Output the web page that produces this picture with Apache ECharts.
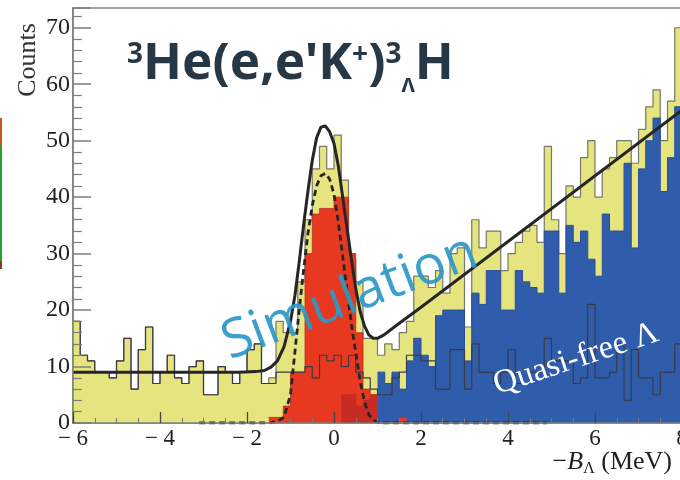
<!DOCTYPE html>
<html><head><meta charset="utf-8">
<script src="https://cdn.jsdelivr.net/npm/echarts@6/dist/echarts.min.js"></script>
<style>html,body{margin:0;padding:0;background:#fff}#c{width:680px;height:480px}</style>
</head><body><div id="c"></div>
<script>
// ---- data ----
const binLow = -6;          // lower edge of first bin (MeV)
const binWidth = 1 / 6;     // bin width (MeV)

// total spectrum (yellow), 84 bins from -6 to 8 MeV
const totalCounts = [
  18, 12, 11, 9, 9, 8, 11, 15, 6, 13,
  17, 7, 9, 12, 8, 7, 10, 11, 5, 5,
  10, 9, 7, 9, 13, 14, 7, 8, 18, 16,
  16, 25, 36, 45, 49, 45, 51, 43, 29, 25,
  15, 15, 12, 14, 13, 16, 18, 26, 26, 24,
  27, 23, 30, 31, 17, 36, 31, 34, 34, 27,
  30, 32, 34, 35, 32, 49, 36, 30, 42, 40,
  47, 50, 40, 45, 47, 50, 50, 46, 52, 56,
  59, 50, 57, 70
];
// accidental background (open dark histogram), 84 bins
const accidentalCounts = [
  18, 12, 11, 9, 9, 8, 11, 15, 6, 13,
  17, 7, 9, 12, 8, 7, 10, 11, 5, 5,
  10, 9, 7, 9, 13, 14, 7, 7, 9, 9,
  9, 9, 10, 8, 12, 11, 12, 10, 12, 9,
  8, 6, 5, 5, 8, 9, 12, 12, 11, 11,
  6, 6, 13, 13, 6, 14, 9, 9, 7, 9,
  13, 7, 7, 9, 9, 15, 11, 11, 11, 7,
  8, 21, 8, 8, 9, 14, 4, 13, 8, 8,
  5, 9, 9, 14
];
// quasi-free Lambda (blue), starting at bin 42
const quasiFreeStart = 42;
const quasiFreeCounts = [
  9, 7, 9, 6, 11, 15, 12, 10, 19, 20,
  20, 20, 11, 23, 21, 27, 27, 20, 20, 27,
  25, 24, 23, 34, 34, 23, 35, 32, 34, 29,
  26, 37, 34, 34, 46, 31, 45, 50, 54, 41,
  47, 56
];
// hypertriton peak (red), starting at bin 27
const peakStart = 27;
const peakCounts = [1, 1, 3, 9, 9, 30, 37, 38, 38, 40, 40, 30, 16, 6, 5, 0, 0, 0, 1];
// darker red component, starting at bin 37
const peakDarkStart = 37;
const peakDarkCounts = [5, 5, 3, 4, 5];

// fit curves [x (MeV), counts]
const fitTotal = [
  [-6, 9], [-4, 9], [-2.2, 9], [-1.8, 9.1], [-1.6, 9.3], [-1.45, 9.9], [-1.3, 11], [-1.15, 13.5],
  [-1.0, 18], [-0.9, 22.5], [-0.8, 28.5], [-0.7, 35], [-0.6, 41], [-0.5, 46.5], [-0.4, 50.5],
  [-0.3, 52.4], [-0.2, 52.6], [-0.1, 51.6], [0, 49.5], [0.1, 45.5], [0.2, 40], [0.3, 34.5],
  [0.4, 29], [0.5, 23.8], [0.6, 19.8], [0.7, 17.2], [0.8, 15.6], [0.9, 15], [1.0, 15],
  [1.15, 15.6], [1.4, 17.1], [2, 20.5], [8, 55.4]
];
const fitPeak = [
  [-3.1, 0], [-1.5, 0], [-1.3, 0.3], [-1.15, 1], [-1.0, 5], [-0.9, 12.5], [-0.8, 20], [-0.7, 27],
  [-0.6, 33.5], [-0.5, 38.5], [-0.4, 42], [-0.3, 43.8], [-0.2, 44.2], [-0.1, 43.2], [0, 40.5],
  [0.1, 35.5], [0.2, 29.5], [0.3, 23.5], [0.4, 17.5], [0.5, 12.5], [0.6, 7.5], [0.7, 3.8],
  [0.8, 1.5], [0.9, 0.5], [1.05, 0], [4.9, 0]
];

// axes
const xMin = -6, xMax = 8, xStep = 2;
const yMin = 0, yMax = 73.5, yStep = 10;

// ---- build ----
function hist(start, counts) {
  const d = counts.map((v, i) => [binLow + (start + i) * binWidth, v]);
  d.push([binLow + (start + counts.length) * binWidth, counts[counts.length - 1]]);
  return d;
}
const serif = 'Liberation Serif';
const axisGray = '#7d7d7d';

const chart = echarts.init(document.getElementById('c'), null, { renderer: 'canvas' });
chart.setOption({
  animation: false,
  backgroundColor: '#ffffff',
  grid: { left: 73, right: -2, top: 8, bottom: 57, containLabel: false, outerBoundsMode: 'none',
          show: true, borderColor: '#8a8a8a', borderWidth: 1.5, backgroundColor: 'transparent' },
  xAxis: {
    type: 'value', min: xMin, max: xMax, interval: xStep, z: 10,
    axisLine: { show: true, onZero: false, lineStyle: { color: axisGray, width: 1.5 } },
    axisTick: { show: true, inside: true, length: 11, lineStyle: { color: '#444', width: 1.3 } },
    minorTick: { show: true, splitNumber: 4, length: 5, lineStyle: { color: '#777', width: 1 } },
    splitLine: { show: false },
    axisLabel: {
      fontFamily: serif, fontSize: 23, color: '#222', margin: 4, hideOverlap: false,
      formatter: v => (v < 0 ? '\u2212 ' + (-v) : String(v))
    }
  },
  yAxis: {
    type: 'value', min: yMin, max: yMax, interval: yStep, z: 10,
    axisLine: { show: true, onZero: false, lineStyle: { color: axisGray, width: 1.5 } },
    axisTick: { show: true, inside: true, length: 18, lineStyle: { color: axisGray, width: 1.5 } },
    minorTick: { show: true, splitNumber: 5, length: 9, lineStyle: { color: axisGray, width: 1.2 } },
    splitLine: { show: false },
    axisLabel: {
      fontFamily: serif, fontSize: 24, color: '#222', margin: 3,
      formatter: v => (v % 10 === 0 ? String(v) : '')
    }
  },
  series: [
    { type: 'line', step: 'end', symbol: 'none', silent: true, z: 2, data: hist(0, totalCounts),
      lineStyle: { color: '#77776a', width: 1.2 }, areaStyle: { color: '#e5e47e', opacity: 1 } },
    { type: 'line', step: 'end', symbol: 'none', silent: true, z: 3, data: hist(quasiFreeStart, quasiFreeCounts),
      lineStyle: { color: '#284f95', width: 1 }, areaStyle: { color: '#2f5dab', opacity: 1 } },
    { type: 'line', step: 'end', symbol: 'none', silent: true, z: 4, data: hist(peakStart, peakCounts),
      lineStyle: { color: '#b83020', width: 0.8 }, areaStyle: { color: '#e8381f', opacity: 1 } },
    { type: 'line', step: 'end', symbol: 'none', silent: true, z: 5, data: hist(peakDarkStart, peakDarkCounts),
      lineStyle: { color: '#b42a20', width: 0.6 }, areaStyle: { color: '#c72b22', opacity: 1 } },
    { type: 'line', step: 'end', symbol: 'none', silent: true, z: 6, data: hist(0, accidentalCounts),
      lineStyle: { color: '#3a3a44', width: 1.2 } },
    { type: 'line', smooth: false, symbol: 'none', silent: true, z: 7, data: fitTotal,
      lineStyle: { color: '#262626', width: 3, join: 'round' } },
    { type: 'line', smooth: false, symbol: 'none', silent: true, z: 8, data: fitPeak,
      lineStyle: { color: '#262626', width: 2.8, type: [6, 4] } }
  ],
  graphic: [
    { type: 'rect', shape: { x: 0, y: 118, width: 2, height: 27 }, style: { fill: '#c25a1c' }, silent: true },
    { type: 'rect', shape: { x: 0, y: 145, width: 2, height: 116 }, style: { fill: '#2aa12c' }, silent: true },
    { type: 'rect', shape: { x: 0, y: 261, width: 2, height: 8 }, style: { fill: '#8a3a12' }, silent: true },
    { type: 'text', x: 28, y: 60, rotation: Math.PI / 2, z: 20, silent: true,
      style: { text: 'Counts', fontFamily: serif, fontSize: 26, fill: '#333', align: 'center', verticalAlign: 'middle' } },
    { type: 'text', x: 127, y: 14, z: 20, silent: true,
      style: {
        text: '{sup|3}{m|He(e,e\'K}{sup|+}{m|)}{sup|3}{sub|\u039b}{m|H}',
        align: 'left', verticalAlign: 'top',
        rich: {
          m: { fontFamily: 'Noto Sans', fontWeight: 'bold', fontSize: 51, fill: '#263746', lineHeight: 100, verticalAlign: 'middle' },
          sup: { fontFamily: 'Noto Sans', fontWeight: 'bold', fontSize: 28, fill: '#263746', verticalAlign: 'top', padding: [27, 0, 0, 0] },
          sub: { fontFamily: 'Noto Sans', fontWeight: 'bold', fontSize: 20, fill: '#263746', verticalAlign: 'bottom', padding: [0, 0, 18, 0] }
        }
      } },
    { type: 'text', x: 350, y: 298, rotation: 0.36, z: 20, silent: true,
      style: { text: 'Simulation', fontFamily: 'Open Sans', fontSize: 54, fill: 'rgba(45,152,200,0.92)', align: 'center', verticalAlign: 'middle' } },
    { type: 'text', x: 576, y: 359, rotation: 0.32, z: 20, silent: true,
      style: { text: 'Quasi-free \u039b', fontFamily: serif, fontSize: 33, fill: '#ffffff', align: 'center', verticalAlign: 'middle' } },
    { type: 'text', x: 672, y: 447, z: 20, silent: true,
      style: {
        text: '{m|\u2212}{b|B}{s|\u039b}{m| (MeV)}', align: 'right', verticalAlign: 'top',
        rich: {
          m: { fontFamily: serif, fontSize: 26, fill: '#222', lineHeight: 30, verticalAlign: 'middle' },
          b: { fontFamily: serif, fontStyle: 'italic', fontSize: 26, fill: '#222', lineHeight: 30, verticalAlign: 'middle' },
          s: { fontFamily: serif, fontSize: 16, fill: '#222', lineHeight: 18, verticalAlign: 'bottom' }
        }
      } }
  ]
});
</script></body></html>
